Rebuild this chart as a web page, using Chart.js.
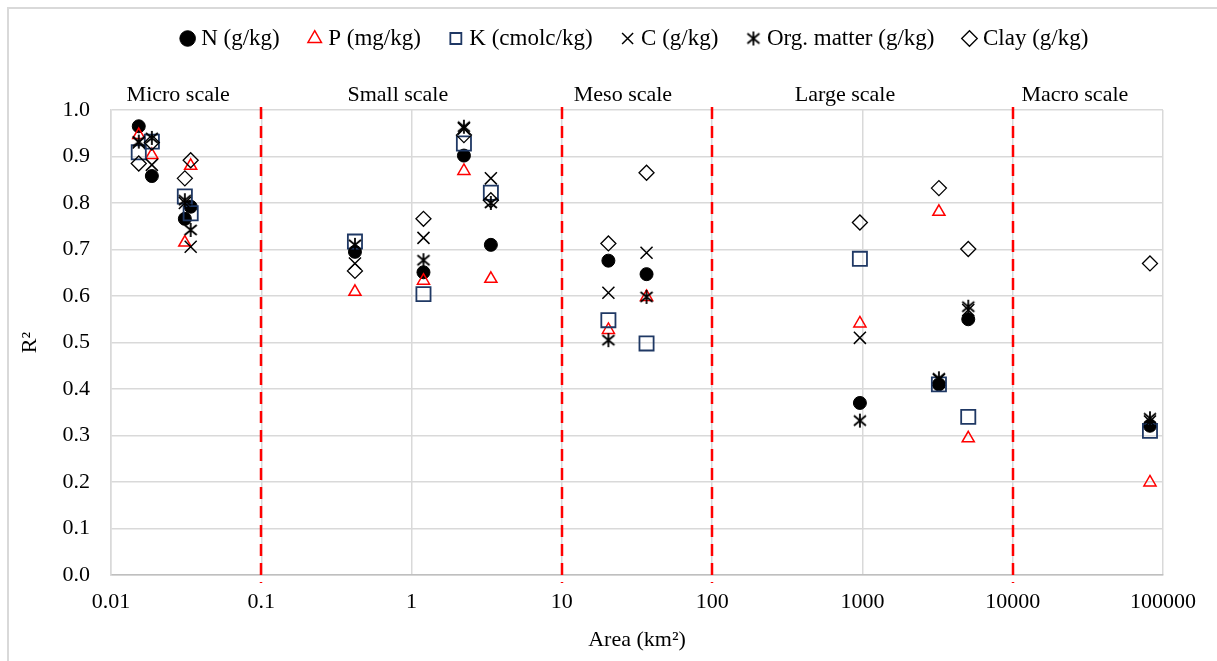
<!DOCTYPE html>
<html>
<head>
<meta charset="utf-8">
<script src="https://cdn.jsdelivr.net/npm/chart.js@4.4.0/dist/chart.umd.min.js"></script>
<style>
    html, body { margin: 0; padding: 0; background: #fff; }
    #wrap { position: relative; width: 1217px; height: 661px; overflow: hidden; }
    #frame { position: absolute; left: 7px; top: 7px; width: 1300px; height: 700px; border: 2px solid #d9d9d9; }
    #r2-chart { position: absolute; left: 0; top: 0; }
</style>
</head>
<body>
<div id="wrap">
    <div id="frame"></div>
    <canvas id="r2-chart" width="1217" height="661"></canvas>
</div>
<script>
// sampling sites, area in km2
const areaKm2 = [0.0153, 0.0187, 0.031, 0.0339, 0.42, 1.2, 2.23, 3.37, 20.4, 36.6, 962, 3228, 5060, 81900];

// R2 per soil attribute, same order as areaKm2
const r2N    = [0.965, 0.858, 0.766, 0.792, 0.695, 0.651, 0.902, 0.710, 0.676, 0.647, 0.370, 0.410, 0.550, 0.321];
const r2P    = [0.946, 0.903, 0.715, 0.880, 0.609, 0.633, 0.869, 0.637, 0.527, 0.598, 0.541, 0.781, 0.294, 0.199];
const r2K    = [0.909, 0.932, 0.814, 0.778, 0.717, 0.604, 0.928, 0.822, 0.548, 0.498, 0.680, 0.410, 0.340, 0.310];
const r2C    = [0.930, 0.882, 0.800, 0.706, 0.670, 0.725, 0.960, 0.853, 0.607, 0.693, 0.510, 0.420, 0.570, 0.330];
const r2Org  = [0.932, 0.940, 0.806, 0.742, 0.710, 0.677, 0.964, 0.800, 0.505, 0.598, 0.332, 0.423, 0.577, 0.337];
const r2Clay = [0.885, 0.930, 0.853, 0.892, 0.654, 0.766, 0.946, 0.806, 0.713, 0.865, 0.758, 0.832, 0.701, 0.670];

const seriesNames = ['N (g/kg)', 'P (mg/kg)', 'K (cmolc/kg)', 'C (g/kg)', 'Org. matter (g/kg)', 'Clay (g/kg)'];

// axis ticks
const xTickValues = [0.01, 0.1, 1, 10, 100, 1000, 10000, 100000];
const xTickLabels = ['0.01', '0.1', '1', '10', '100', '1000', '10000', '100000'];
const yTickValues = [0, 0.1, 0.2, 0.3, 0.4, 0.5, 0.6, 0.7, 0.8, 0.9, 1.0];

// scale bands
const dividerAreas = [0.1, 10, 100, 10000];
const scaleNames = ['Micro scale', 'Small scale', 'Meso scale', 'Large scale', 'Macro scale'];
const scaleLabelAt = [0.028, 0.81, 25.5, 766, 25900];

const FONT = 'Liberation Serif';
const PAD_TOP = -6;
const PLOT_TOP = 110;

function makeAsterisk(size, color) {
    const c = document.createElement('canvas');
    c.width = size;
    c.height = size;
    const g = c.getContext('2d');
    const m = size / 2;
    g.strokeStyle = color;
    g.lineWidth = 1.8;
    g.beginPath();
    g.moveTo(m, 1); g.lineTo(m, size - 1);
    g.moveTo(m - 6, m - 5); g.lineTo(m + 6, m + 5);
    g.moveTo(m + 6, m - 5); g.lineTo(m - 6, m + 5);
    g.stroke();
    return c;
}

function toPoints(values) {
    return areaKm2.map((x, i) => ({ x: x, y: values[i] }));
}

const none = 'rgba(0,0,0,0)';

const datasets = [
    { label: seriesNames[0], data: toPoints(r2N), pointStyle: 'circle', pointRadius: 6.5,
      backgroundColor: '#000', borderColor: '#000', borderWidth: 1, order: 6 },
    { label: seriesNames[1], data: toPoints(r2P), pointStyle: 'triangle', pointRadius: 7,
      backgroundColor: none, borderColor: '#ff0000', borderWidth: 1.5, order: 5 },
    { label: seriesNames[2], data: toPoints(r2K), pointStyle: 'rect', pointRadius: 10,
      backgroundColor: none, borderColor: '#1f3864', borderWidth: 1.8, order: 4 },
    { label: seriesNames[3], data: toPoints(r2C), pointStyle: 'crossRot', pointRadius: 8.5,
      backgroundColor: none, borderColor: '#000', borderWidth: 1.5, order: 3 },
    { label: seriesNames[4], data: toPoints(r2Org), pointStyle: makeAsterisk(16, '#000'), pointRadius: 8,
      backgroundColor: none, borderColor: '#000', borderWidth: 1.5, order: 2 },
    { label: seriesNames[5], data: toPoints(r2Clay), pointStyle: 'rectRot', pointRadius: 7.5,
      backgroundColor: none, borderColor: '#000', borderWidth: 1.3, order: 1 }
];

const dividerPlugin = {
    id: 'scaleDividers',
    beforeDatasetsDraw(chart) {
        const { ctx, chartArea, scales } = chart;
        ctx.save();
        ctx.strokeStyle = '#ff0000';
        ctx.lineWidth = 2.5;
        ctx.setLineDash([12, 7]);
        dividerAreas.forEach(v => {
            const px = Math.round(scales.x.getPixelForValue(v));
            ctx.beginPath();
            ctx.moveTo(px, chartArea.top - 3);
            ctx.lineTo(px, chartArea.bottom + 8);
            ctx.stroke();
        });
        ctx.restore();
    }
};

const ctx = document.getElementById('r2-chart').getContext('2d');
const r2Chart = new Chart(ctx, {
    type: 'scatter',
    data: { datasets: datasets },
    options: {
        responsive: false,
        animation: false,
        events: [],
        layout: { padding: { left: 10, right: 54, top: PAD_TOP, bottom: 0 } },
        plugins: {
            tooltip: { enabled: false },
            legend: {
                position: 'top',
                fullSize: false,
                labels: {
                    usePointStyle: true,
                    boxWidth: 4,
                    boxHeight: 11,
                    padding: 33,
                    color: '#000',
                    font: { family: FONT, size: 23 },
                    sort: (a, b) => a.datasetIndex - b.datasetIndex
                }
            }
        },
        scales: {
            x: {
                type: 'logarithmic',
                position: 'bottom',
                min: 0.01,
                max: 100000,
                afterBuildTicks: scale => { scale.ticks = xTickValues.map(v => ({ value: v })); },
                afterFit: scale => { scale.height = 86; },
                ticks: {
                    autoSkip: false,
                    maxRotation: 0,
                    padding: 14,
                    color: '#000',
                    font: { family: FONT, size: 22 },
                    callback: (value, index) => xTickLabels[index]
                },
                grid: { color: '#d9d9d9', lineWidth: 1.5, drawTicks: false },
                border: { color: '#bfbfbf', width: 1.5 },
                title: {
                    display: true,
                    text: 'Area (km²)',
                    color: '#000',
                    font: { family: FONT, size: 22 },
                    padding: { top: 0, bottom: 8 }
                }
            },
            xTop: {
                type: 'logarithmic',
                position: 'top',
                display: true,
                min: 0.01,
                max: 100000,
                afterBuildTicks: scale => { scale.ticks = scaleLabelAt.map(v => ({ value: v })); },
                afterFit: scale => {
                    const legendH = (scale.chart.legend && scale.chart.legend.height) || 60;
                    scale.height = Math.max(20, PLOT_TOP - PAD_TOP - legendH);
                },
                ticks: {
                    autoSkip: false,
                    maxRotation: 0,
                    padding: 2,
                    color: '#000',
                    font: { family: FONT, size: 22 },
                    callback: (value, index) => scaleNames[index]
                },
                grid: { display: false, drawTicks: false },
                border: { display: false }
            },
            y: {
                type: 'linear',
                min: 0,
                max: 1,
                afterBuildTicks: scale => { scale.ticks = yTickValues.map(v => ({ value: v })); },
                afterFit: scale => { scale.width = 101; },
                ticks: {
                    padding: 21,
                    color: '#000',
                    font: { family: FONT, size: 22 },
                    callback: value => value.toFixed(1)
                },
                grid: { color: '#d9d9d9', lineWidth: 1.5, drawTicks: false },
                border: { color: '#d9d9d9', width: 1.5 },
                title: {
                    display: true,
                    text: 'R²',
                    color: '#000',
                    font: { family: FONT, size: 22 },
                    padding: { top: 7, bottom: 0 }
                }
            }
        }
    },
    plugins: [dividerPlugin]
});
</script>
</body>
</html>
